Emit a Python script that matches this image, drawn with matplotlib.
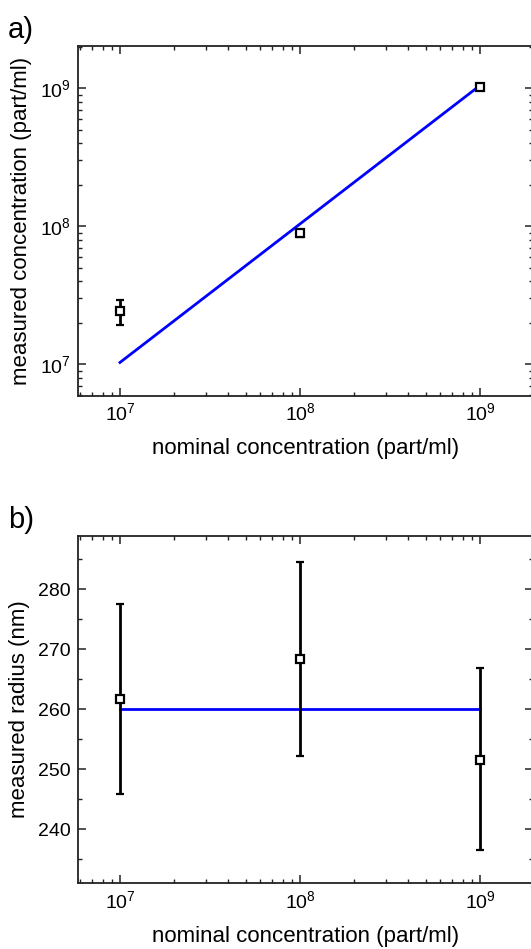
import matplotlib
matplotlib.use("Agg")
import matplotlib.pyplot as plt
from matplotlib.ticker import LogLocator, MultipleLocator, LogFormatterSciNotation, NullFormatter

plt.rcParams['font.family'] = ['Liberation Sans', 'DejaVu Sans']
plt.rcParams['mathtext.fontset'] = 'custom'
plt.rcParams['mathtext.rm'] = 'Liberation Sans'
plt.rcParams['mathtext.it'] = 'Liberation Sans:italic'
plt.rcParams['mathtext.bf'] = 'Liberation Sans:bold'

# Data
nominal = [1e7, 1e8, 1e9]
conc_measured = [2.42e7, 8.9e7, 1.02e9]
conc_err_low = [0.51e7, 0.5e7, 0.05e9]
conc_err_high = [0.52e7, 0.5e7, 0.05e9]
conc_fit = [1.03e7, 1.05e9]
fit_x = [1e7, 1e9]

radius_measured = [261.6, 268.3, 251.5]
radius_err_low = [15.8, 16.1, 15.0]
radius_err_high = [15.9, 16.2, 15.3]
radius_fit = [260.0, 260.0]

W, H = 531, 949
fig = plt.figure(figsize=(W / 100, H / 100), dpi=100)

def fr(l, t, r, b):
    return [l / W, 1 - b / H, (r - l) / W, (b - t) / H]

ax1 = fig.add_axes(fr(78, 45.7, 533, 395.7))
ax2 = fig.add_axes(fr(78, 535.7, 533, 883.3))

for ax in (ax1, ax2):
    ax.set_xscale('log')
    ax.set_xlim(10 ** 6.767, 10 ** 9.294)
    ax.xaxis.set_major_locator(LogLocator(base=10, numticks=10))
    ax.xaxis.set_minor_locator(LogLocator(base=10, subs=range(2, 10), numticks=20))
    ax.xaxis.set_major_formatter(LogFormatterSciNotation())
    ax.xaxis.set_minor_formatter(NullFormatter())
    ax.tick_params(which='both', direction='in', top=True, right=True, colors='#222222',
                   labelcolor='black', labelsize=14)
    ax.tick_params(which='major', length=6, width=1.1)
    ax.tick_params(which='minor', length=3, width=1.0)
    ax.tick_params(axis='x', pad=5)
    ax.tick_params(axis='y', pad=5)
    for s in ax.spines.values():
        s.set_linewidth(1.3)
        s.set_color('#222222')
    ax.set_xlabel('nominal concentration (part/ml)', fontsize=16, labelpad=10)

# Panel a
ax1.set_yscale('log')
ax1.set_ylim(10 ** 6.772, 10 ** 9.309)
ax1.yaxis.set_major_locator(LogLocator(base=10, numticks=10))
ax1.yaxis.set_minor_locator(LogLocator(base=10, subs=range(2, 10), numticks=20))
ax1.yaxis.set_major_formatter(LogFormatterSciNotation())
ax1.yaxis.set_minor_formatter(NullFormatter())
ax1.plot(fit_x, conc_fit, color='#0000ff', lw=2, zorder=2)
ax1.errorbar(nominal, conc_measured, yerr=[conc_err_low, conc_err_high], fmt='s',
             mfc='white', mec='black', mew=1.6, ms=6, ecolor='black', elinewidth=2,
             capsize=3, capthick=2, zorder=3)
ax1.set_ylabel('measured concentration (part/ml)', fontsize=16, labelpad=6)

# Panel b
ax2.set_ylim(230.95, 288.9)
ax2.yaxis.set_major_locator(MultipleLocator(10))
ax2.yaxis.set_minor_locator(MultipleLocator(5))
ax2.plot(fit_x, radius_fit, color='#0000ff', lw=2, zorder=2)
ax2.errorbar(nominal, radius_measured, yerr=[radius_err_low, radius_err_high], fmt='s',
             mfc='white', mec='black', mew=1.6, ms=6, ecolor='black', elinewidth=2,
             capsize=3, capthick=2, zorder=3)
ax2.set_ylabel('measured radius (nm)', fontsize=16, labelpad=6)

fig.text(8 / W, 1 - 38 / H, 'a)', fontsize=21, ha='left', va='baseline')
fig.text(8 / W, 1 - 528 / H, 'b)', fontsize=21, ha='left', va='baseline')

fig.savefig('out.png', dpi=100)
